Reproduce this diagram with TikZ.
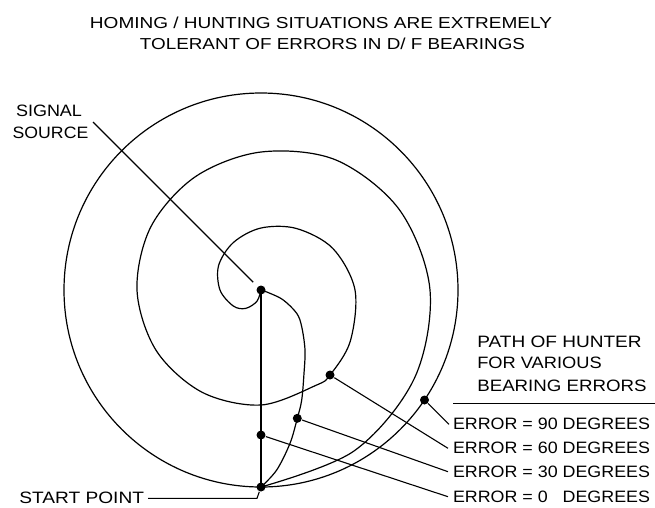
\documentclass[tikz,border=0pt]{standalone}
\usepackage{fontspec}
\setmainfont{Liberation Sans}
\usepackage{graphicx}
\usetikzlibrary{calc}
\newcommand{\fitlbl}[2]{\resizebox{#1}{11.5pt}{#2}}
\begin{document}
\begin{tikzpicture}[x=1pt,y=-1pt,line width=1.2pt,
  dot/.style={circle,fill=black,inner sep=0pt,minimum size=9pt},
  lbl/.style={inner sep=0pt,outer sep=0pt},
  pathline/.style={line width=1.2pt},
  leader/.style={line width=1.1pt},
  direct/.style={line width=1.9pt}]
\fill[white] (0,0) rectangle (655,507);
\useasboundingbox (0,0) rectangle (655,507);

% title
\node[lbl] (t1) at (321,22.5) {\fitlbl{462pt}{HOMING / HUNTING SITUATIONS ARE EXTREMELY}};
\node[lbl] (t2) at (332.5,44.2) {\fitlbl{385pt}{TOLERANT OF ERRORS IN D/ F BEARINGS}};

% key points
\node[dot] (src) at (261,290) {};
\node[dot] (start) at (261,487) {};

% error = 90 : circle
\draw[pathline] (src.center) circle[radius=197pt];

% error = 60 : spiral
\draw[pathline] plot[smooth,tension=0.55] coordinates {(start.center)
  (354,451) (414.3,378.5) (430,290) (399.6,210) (336,160) (261,152)
  (195.5,176.6) (151,226.5) (137,290) (156.2,350.5) (202,392.2) (261,405)
  (316,385.3) (330,375) (350.2,341.5) (355,290) (332.9,248.5) (296.5,228.5)
  (261,228) (233.5,242.4) (218.6,265.5) (220,290) (233.3,306) (245.6,308.4)
  (256.9,301.3) (src.center)};

% error = 30
\draw[pathline] plot[smooth,tension=0.55] coordinates {(start.center)
  (276.7,470) (290,443.3) (297.3,418.3) (301.7,400) (304,373.3) (305,350)
  (301.7,326.7) (296.7,313.3) (283.3,300) (270,293.3) (src.center)};

% error = 0
\draw[direct] (start.center) -- (src.center);

% markers
\node[dot] (m0) at (261,435) {};
\node[dot] (m30) at (297.3,418.3) {};
\node[dot] (m60) at (330,375) {};
\node[dot] (m90) at (424.5,400) {};

% labels
\node[lbl] (sig) at (49,110.8) {\fitlbl{66pt}{SIGNAL}};
\node[lbl] (sou) at (50.5,132.8) {\fitlbl{75.6pt}{SOURCE}};
\coordinate (sstip) at (93,122);
\draw[leader,shorten >=6pt] (sstip) -- (src);

\node[lbl] (stl) at (81.7,498.3) {\fitlbl{124.7pt}{START POINT}};
\coordinate (stbend) at (257,498.3);
\draw[leader] ([xshift=4pt]stl.east) -- (stbend) -- (start);

\node[lbl] (k1) at (559.5,341.7) {\fitlbl{164.4pt}{PATH OF HUNTER}};
\node[lbl] (k2) at (539.5,363.3) {\fitlbl{124.4pt}{FOR VARIOUS}};
\node[lbl] (k3) at (562,386.3) {\fitlbl{169.4pt}{BEARING ERRORS}};
\coordinate (ulL) at (453,403.3);
\coordinate (ulR) at (655,403.3);
\draw[leader] (ulL) -- (ulR);

\node[lbl] (e90) at (551.5,424.3) {\fitlbl{197pt}{ERROR = 90 DEGREES}};
\node[lbl] (e60) at (551.5,448.3) {\fitlbl{197pt}{ERROR = 60 DEGREES}};
\node[lbl] (e30) at (551.5,471.7) {\fitlbl{197pt}{ERROR = 30 DEGREES}};
\node[lbl] (e0) at (551.5,496.7) {\fitlbl{197pt}{ERROR = 0\phantom{0} DEGREES}};

\draw[leader] (m90) -- ([xshift=-4pt]e90.west);
\draw[leader] (m60) -- ([xshift=-5pt]e60.west);
\draw[leader] (m30) -- ([xshift=-5pt]e30.west);
\draw[leader] (m0) -- ([xshift=-5pt]e0.west);
\end{tikzpicture}
\end{document}
